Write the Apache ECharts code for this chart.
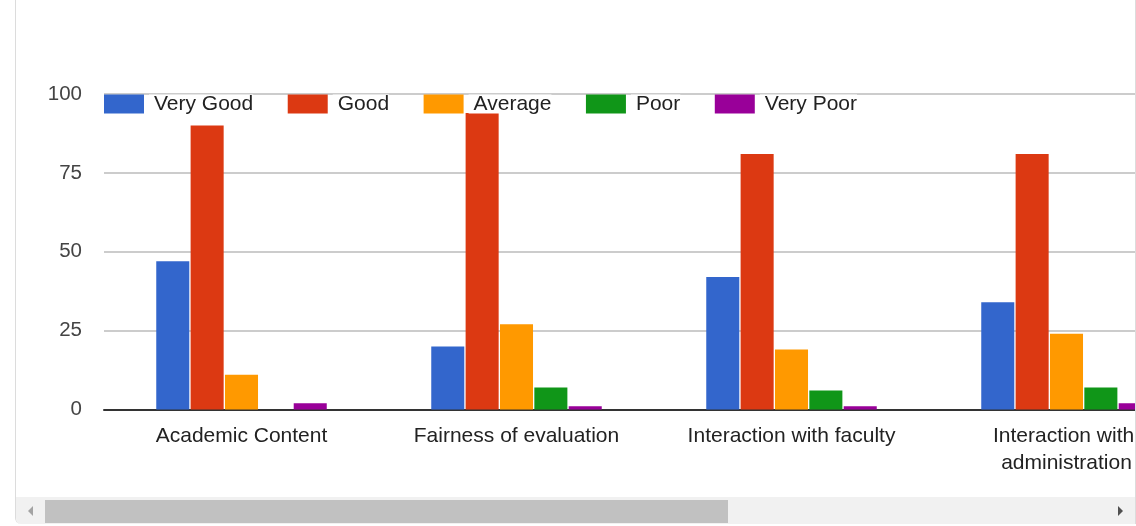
<!DOCTYPE html>
<html>
<head>
<meta charset="utf-8">
<script src="https://cdn.jsdelivr.net/npm/echarts@6/dist/echarts.min.js"></script>
<style>
  html, body { margin: 0; padding: 0; background: #fff; width: 1136px; height: 526px; overflow: hidden; }
  #frame { position: absolute; left: 15px; top: -10px; width: 1119px; height: 534px;
           border-left: 1px solid #dcdcdc; border-right: 1px solid #dcdcdc;
           border-bottom-left-radius: 6px; overflow: hidden; }
  #chart { position: absolute; left: 0; top: 10px; width: 1220px; height: 497px; }
  #track { position: absolute; left: 0; top: 507px; width: 1119px; height: 29px; background: #f1f1f1; }
  #thumb { position: absolute; left: 29px; top: 3px; width: 683px; height: 23px; background: #c1c1c1; }
  .arr { position: absolute; top: 9px; width: 0; height: 0; border-top: 5px solid transparent; border-bottom: 5px solid transparent; }
  #al { left: 12px; border-right: 5px solid #a3a3a3; }
  #ar { left: 1102px; border-left: 5px solid #505050; }
</style>
</head>
<body>
<div id="frame">
  <div id="chart"></div>
  <div id="track"><div id="al" class="arr"></div><div id="thumb"></div><div id="ar" class="arr"></div></div>
</div>
<script>
// ratings per area
var categories = ['Academic Content', 'Fairness of evaluation', 'Interaction with faculty', 'Interaction with administration']
var veryGood = [47, 20, 42, 34]
var good = [90, 94, 81, 81]
var average = [11, 27, 19, 24]
var poor = [0, 7, 6, 7]
var veryPoor = [2, 1, 1, 2]
var yTicks = [0, 25, 50, 75, 100]

var font = "'Liberation Sans', Arial, sans-serif"

var myChart = echarts.init(document.getElementById('chart'))

function bar(name, data, color) {
    return {
        name: name,
        type: 'bar',
        data: data,
        itemStyle: { color: color },
        barGap: '4%',
        barCategoryGap: '38%',
    }
}

myChart.setOption({
    animation: false,
    textStyle: { fontFamily: font },
    grid: { left: 88, top: 94, right: 32, bottom: 87.5 },
    legend: {
        left: 88,
        top: 93.5,
        padding: 0,
        icon: 'rect',
        itemWidth: 40,
        itemHeight: 19,
        itemGap: 34.5,
        selectedMode: false,
        textStyle: {
            fontSize: 21,
            lineHeight: 19,
            color: '#222',
            fontFamily: font,
            backgroundColor: '#fff',
            padding: [0, 0, 0, 5],
        },
    },
    xAxis: {
        type: 'category',
        data: categories,
        axisLine: { lineStyle: { color: '#333', width: 2 } },
        axisTick: { show: false },
        axisLabel: {
            fontSize: 21,
            color: '#222',
            margin: 13,
            lineHeight: 27,
            width: 250,
            overflow: 'break',
            interval: 0,
        },
    },
    yAxis: {
        type: 'value',
        min: yTicks[0],
        max: yTicks[yTicks.length - 1],
        interval: 25,
        axisLine: { show: false },
        axisTick: { show: false },
        axisLabel: { fontSize: 20.5, color: '#444', margin: 22 },
        splitLine: { // 网格线
            lineStyle: { color: '#ccc', width: 2 },
        },
    },
    series: [
        bar('Very Good', veryGood, '#3366cc'),
        bar('Good', good, '#dc3912'),
        bar('Average', average, '#ff9900'),
        bar('Poor', poor, '#109618'),
        bar('Very Poor', veryPoor, '#990099'),
    ]
})
</script>
</body>
</html>
